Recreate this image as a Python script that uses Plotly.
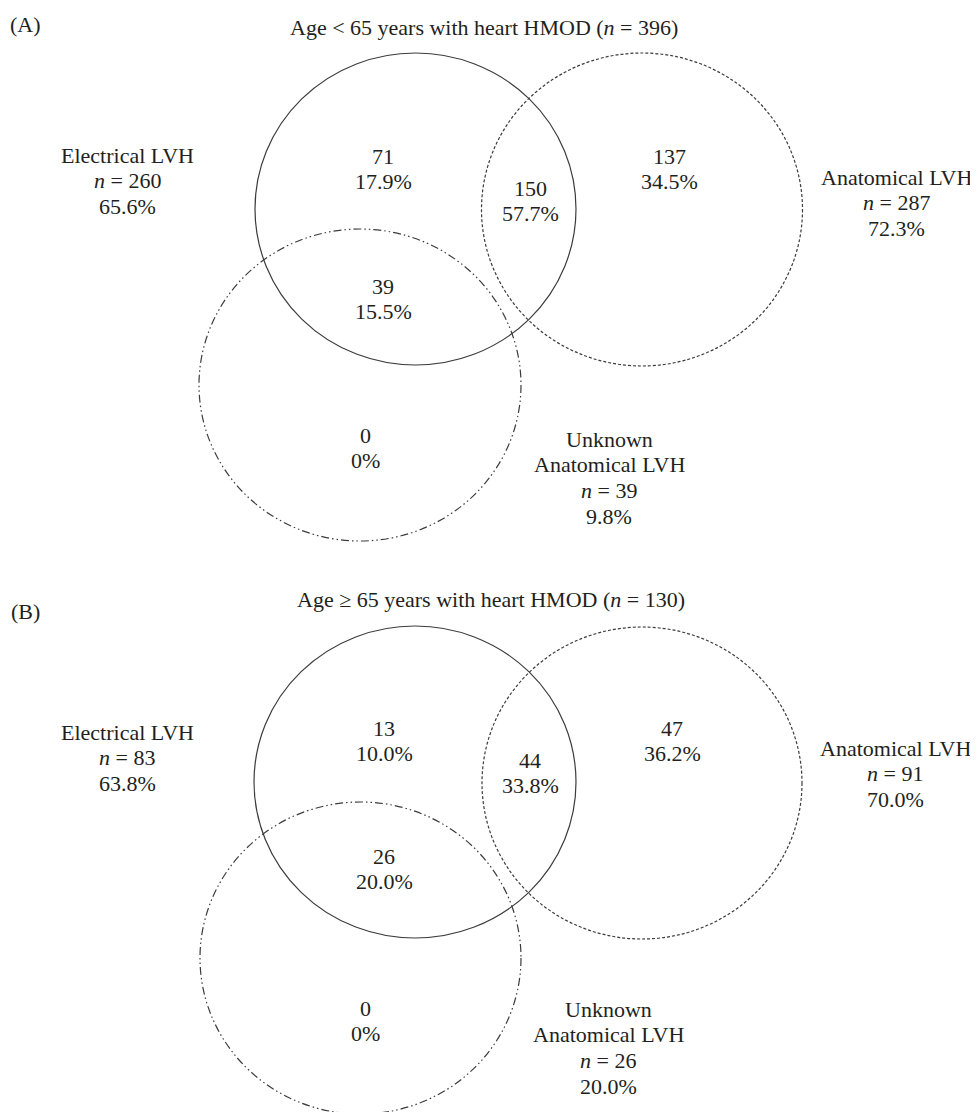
import plotly.graph_objects as go

# ---------------- data ----------------
panel_tags = ["(A)", "(B)"]
panel_titles = [
    "Age < 65 years with heart HMOD (<i>n</i> = 396)",
    "Age \u2265 65 years with heart HMOD (<i>n</i> = 130)",
]
set_names = [["Electrical LVH"], ["Anatomical LVH"], ["Unknown", "Anatomical LVH"]]
set_n = [[260, 287, 39], [83, 91, 26]]
set_pct = [["65.6%", "72.3%", "9.8%"], ["63.8%", "70.0%", "20.0%"]]
region_names = ["Electrical only", "Electrical & Anatomical", "Anatomical only",
                "Electrical & Unknown", "Unknown only"]
region_counts = [[71, 150, 137, 39, 0], [13, 44, 47, 26, 0]]
region_pct = [["17.9%", "57.7%", "34.5%", "15.5%", "0%"],
              ["10.0%", "33.8%", "36.2%", "20.0%", "0%"]]

# ---------------- layout / geometry (page pixels) ----------------
W, H = 978, 1112
BODY = 8  # default page body margin
tag_pos = [(25, 24), (25, 611)]
title_pos = [(484, 27), (491, 599)]
# circles: (cx, cy, rx, ry) for Electrical (solid), Anatomical (dashed), Unknown (dash-dot-dot)
circle_geo = [
    [(415.5, 209, 160.5, 156), (642, 209.5, 160.5, 156.5), (360, 385, 161, 156)],
    [(415, 782, 161, 156), (642, 783, 160, 156), (360.5, 958, 160.5, 156)],
]
circle_dash = ["solid", "3px,2px", "8px,3px,1.5px,3px,1.5px,3px"]
set_label_pos = [
    [(127, 155), (896, 177), (609, 439)],
    [(127, 732), (895, 748), (608, 1009)],
]
region_pos = [
    [(383, 156), (530, 188), (669, 156), (383, 286), (365, 435)],
    [(384, 728), (530, 760), (672, 728), (384, 856), (365, 1008)],
]
LINE = 25.7
FONT = dict(family="Liberation Serif, Times New Roman, serif", size=22, color="#231f20")
LINE_COLOR = "#3c3c3c"

fig = go.Figure()
# invisible trace to establish axes
fig.add_trace(go.Scatter(x=[BODY, W], y=[BODY, H], mode="markers",
                         marker=dict(opacity=0), hoverinfo="skip", showlegend=False))

annotations = []
shapes = []


def add_lines(x, y0, lines):
    for i, t in enumerate(lines):
        annotations.append(dict(x=x, y=y0 + i * LINE, text=t, showarrow=False,
                                xref="x", yref="y", xanchor="center", yanchor="middle",
                                font=FONT))


for p in range(2):
    tx, ty = tag_pos[p]
    add_lines(tx, ty, [panel_tags[p]])
    tx, ty = title_pos[p]
    add_lines(tx, ty, [panel_titles[p]])
    for k in range(3):
        cx, cy, rx, ry = circle_geo[p][k]
        shapes.append(dict(type="circle", xref="x", yref="y",
                           x0=cx - rx, x1=cx + rx, y0=cy - ry, y1=cy + ry,
                           line=dict(color=LINE_COLOR, width=1.2, dash=circle_dash[k]),
                           fillcolor="rgba(0,0,0,0)", layer="above"))
        lx, ly = set_label_pos[p][k]
        add_lines(lx, ly, set_names[k] + [f"<i>n</i> = {set_n[p][k]}", set_pct[p][k]])
    for r in range(len(region_names)):
        rx_, ry_ = region_pos[p][r]
        add_lines(rx_, ry_, [str(region_counts[p][r]), region_pct[p][r]])

fig.update_layout(
    width=W - BODY, height=H - BODY,
    margin=dict(l=0, r=0, t=0, b=0),
    paper_bgcolor="white", plot_bgcolor="white",
    xaxis=dict(range=[BODY, W], visible=False, fixedrange=True),
    yaxis=dict(range=[H, BODY], visible=False, fixedrange=True),
    annotations=annotations, shapes=shapes, showlegend=False,
)
fig.write_html("out.html")
